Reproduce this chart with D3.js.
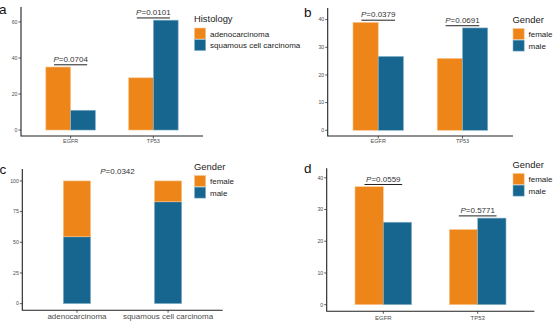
<!DOCTYPE html>
<html>
<head>
<meta charset="utf-8">
<script src="https://cdn.jsdelivr.net/npm/d3@7"></script>
<style>
  body { margin: 0; background: #fff; }
  svg { display: block; font-family: "Liberation Sans", Arial, sans-serif; }
</style>
</head>
<body>
<script>
'use strict';

// categories
const genes = ["EGFR", "TP53"];
const histology = ["adenocarcinoma", "squamous cell carcinoma"];
const gender = ["female", "male"];

// panel a: mutation counts by histology
const aAdeno = [35, 29];
const aSquamous = [11, 61];
const aPvals = ["0.0704", "0.0101"];
const aTicks = [0, 20, 40, 60];

// panel b: mutation counts by gender
const bFemale = [39, 26];
const bMale = [26.7, 37];
const bPvals = ["0.0379", "0.0691"];
const bTicks = [0, 10, 20, 30, 40];

// panel c: gender share within each histology (%)
const cFemale = [45.5, 17];
const cMale = [54.5, 83];
const cPval = "0.0342";
const cTicks = [0, 25, 50, 75, 100];

// panel d: mutation rates by gender
const dFemale = [37.2, 23.7];
const dMale = [26, 27.3];
const dPvals = ["0.0559", "0.5771"];
const dTicks = [0, 10, 20, 30, 40];

const colors = ["#EE8518", "#16668F"];
const edge = ["#F8C995", "#8FB6CC"];

const svg = d3.select("body").append("svg")
  .attr("width", 554)
  .attr("height", 322);

// y axis, x axis and tick labels for one panel
function drawAxes(x, y, ticks, cats, xFont, xLabelY) {
  const [x0, x1] = x.range();
  const [yb, yt] = y.range();

  const g = svg.append("g");
  ticks.forEach(function(t) {
    g.append("line")
      .attr("x1", x0 - 2.5).attr("x2", x0)
      .attr("y1", y(t)).attr("y2", y(t))
      .attr("stroke", "#333").attr("stroke-width", 0.8);
    g.append("text")
      .attr("x", x0 - 3.5)
      .attr("y", y(t) + 1.8)
      .attr("text-anchor", "end")
      .style("font-size", "5.2px")
      .attr("fill", "#4d4d4d")
      .text(t);
  });
  cats.forEach(function(c) {
    g.append("line")
      .attr("x1", x(c)).attr("x2", x(c))
      .attr("y1", yb).attr("y2", yb + 2.5)
      .attr("stroke", "#333").attr("stroke-width", 0.8);
    g.append("text")
      .attr("x", x(c))
      .attr("y", xLabelY)
      .attr("text-anchor", "middle")
      .style("font-size", xFont)
      .attr("fill", "#4d4d4d")
      .text(c);
  });
  g.append("path")
    .attr("d", "M" + x0 + "," + yt + "V" + yb + "H" + x1)
    .attr("fill", "none")
    .attr("stroke", "#222")
    .attr("stroke-width", 1.1);
}

// italic P followed by the value
function pLabel(g, cx, by, p) {
  const t = g.append("text")
    .attr("x", cx)
    .attr("y", by)
    .attr("text-anchor", "middle")
    .style("font-size", "8px")
    .attr("fill", "#333");
  t.append("tspan").style("font-style", "italic").text("P");
  t.append("tspan").text("=" + p);
}

// two dodged bars per gene with a bracket and p-value above each pair
function groupedPanel(opts) {
  const x = d3.scalePoint().domain(genes).range(opts.xr).padding(0.6);
  const y = d3.scaleLinear().domain(opts.yd).range(opts.yr);
  const w = x.step() * 0.3;
  const g = svg.append("g");

  opts.series.forEach(function(vals, s) {
    g.selectAll(null)
      .data(genes)
      .enter()
      .append("rect")
      .attr("x", (d) => x(d) - w + s * w)
      .attr("y", (d, i) => y(vals[i]))
      .attr("width", w)
      .attr("height", (d, i) => y(0) - y(vals[i]))
      .attr("fill", colors[s])
      .attr("stroke", edge[s])
      .attr("stroke-width", 0.6);
  });

  genes.forEach(function(gene, i) {
    const top = y(d3.max(opts.series, (v) => v[i])) - 2.2;
    g.append("line")
      .attr("x1", x(gene) - x.step() * 0.2)
      .attr("x2", x(gene) + x.step() * 0.2)
      .attr("y1", top).attr("y2", top)
      .attr("stroke", "#222")
      .attr("stroke-width", 1);
    pLabel(g, x(gene), top - 2.8, opts.pvals[i]);
  });

  drawAxes(x, y, opts.ticks, genes, opts.xFont, opts.xLabelY);
}

function legend(x0, y0, title, labels) {
  const g = svg.append("g");
  g.append("text")
    .attr("x", x0)
    .attr("y", y0)
    .style("font-size", "9.4px")
    .attr("fill", "#222")
    .text(title);
  labels.forEach(function(l, i) {
    g.append("rect")
      .attr("x", x0 + 0.5)
      .attr("y", y0 + 6 + i * 11.6)
      .attr("width", 11.2)
      .attr("height", 11)
      .attr("fill", colors[i])
      .attr("stroke", edge[i])
      .attr("stroke-width", 0.6);
    g.append("text")
      .attr("x", x0 + 16)
      .attr("y", y0 + 14.5 + i * 11.6)
      .style("font-size", "8px")
      .attr("fill", "#222")
      .text(l);
  });
}

function panelTag(x0, y0, tag) {
  svg.append("text")
    .attr("x", x0)
    .attr("y", y0)
    .style("font-size", "13.5px")
    .attr("fill", "#111")
    .text(tag);
}

// a
groupedPanel({
  xr: [21, 203], yd: [-3.3, 68.3], yr: [136, 7],
  series: [aAdeno, aSquamous], pvals: aPvals, ticks: aTicks,
  xFont: "5.5px", xLabelY: 142.5
});
legend(194, 22, "Histology", histology);
panelTag(-1, 14, "a");

// b
groupedPanel({
  xr: [327.7, 513], yd: [-2.06, 44.2], yr: [136, 8],
  series: [bFemale, bMale], pvals: bPvals, ticks: bTicks,
  xFont: "5.5px", xLabelY: 142.5
});
legend(512.5, 22.5, "Gender", gender);
panelTag(304, 16.5, "b");

// c: stacked shares, male at the bottom
(function() {
  const x = d3.scalePoint().domain(histology).range([22.3, 222.7]).padding(0.6);
  const y = d3.scaleLinear().domain([-5.4, 109.7]).range([310.3, 169]);
  const w = x.step() * 0.3;
  const g = svg.append("g");
  const stacks = [[cMale, 1], [cFemale, 0]];

  histology.forEach(function(h, i) {
    let base = 0;
    stacks.forEach(function(s) {
      const v = s[0][i];
      g.append("rect")
        .attr("x", x(h) - w / 2)
        .attr("y", y(base + v))
        .attr("width", w)
        .attr("height", y(base) - y(base + v))
        .attr("fill", colors[s[1]])
        .attr("stroke", edge[s[1]])
        .attr("stroke-width", 0.6);
      base += v;
    });
  });

  pLabel(g, (x(histology[0]) + x(histology[1])) / 2 - 5, y(106), cPval);
  drawAxes(x, y, cTicks, histology, "8px", 319);
})();
legend(194, 169.5, "Gender", gender);
panelTag(-0.5, 173.5, "c");

// d
groupedPanel({
  xr: [326.7, 534.3], yd: [-2.08, 43], yr: [311.3, 168.3],
  series: [dFemale, dMale], pvals: dPvals, ticks: dTicks,
  xFont: "6px", xLabelY: 319.5
});
legend(512.5, 167.5, "Gender", gender);
panelTag(304, 173, "d");
</script>
</body>
</html>
